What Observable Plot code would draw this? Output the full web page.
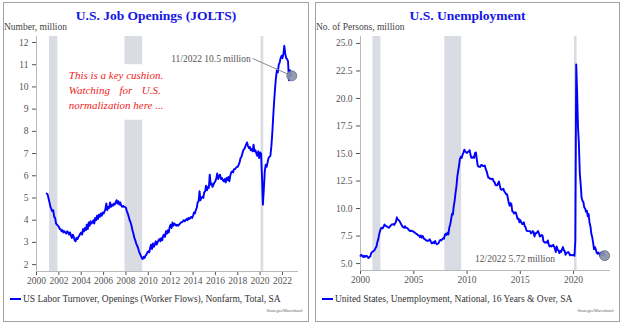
<!DOCTYPE html>
<html><head><meta charset="utf-8">
<script src="https://cdn.jsdelivr.net/npm/d3@7"></script>
<script src="https://cdn.jsdelivr.net/npm/@observablehq/plot@0.6"></script>
<style>
body{margin:0;background:#fff;width:624px;height:326px;overflow:hidden;font-family:"Liberation Serif","Times New Roman",serif;}
.panel{position:absolute;top:2px;height:320px;border:1px solid #a4a4a4;box-sizing:border-box;}
.title{position:absolute;left:0;right:0;top:6px;line-height:13.5px;text-align:center;font-weight:bold;font-size:13.5px;color:#1414e6;white-space:nowrap;}
.ylab{position:absolute;left:0;top:20px;font-size:9.5px;line-height:9.5px;color:#444;white-space:nowrap;}
.chart{position:absolute;left:0;top:21px;}
.legend{position:absolute;left:6px;top:290px;font-size:9.5px;line-height:12px;color:#333;display:flex;align-items:center;white-space:nowrap;}
.legend .sw{width:11px;height:2px;background:#0000ff;margin-right:2px;}
.src{position:absolute;right:6px;top:305px;font-size:6px;color:#666;transform:scale(0.7);transform-origin:right top;white-space:nowrap;}
</style>
</head><body>
<div class="panel" id="pL" style="left:3px;width:306px;">
  <div class="chart" id="cL"></div>
  <div class="title">U.S. Job Openings (JOLTS)</div>
  <div class="ylab">Number, million</div>
  <div class="legend"><div class="sw"></div><span>US Labor Turnover, Openings (Worker Flows), Nonfarm, Total, SA</span></div>
  <div class="src">Strategas/Macrobond</div>
</div>
<div class="panel" id="pR" style="left:315px;width:305px;">
  <div class="chart" id="cR"></div>
  <div class="title">U.S. Unemployment</div>
  <div class="ylab">No. of Persons, million</div>
  <div class="legend" style="left:6px;"><div class="sw"></div><span>United States, Unemployment, National, 16 Years &amp; Over, SA</span></div>
  <div class="src">Strategas/Macrobond</div>
</div>
<script>
// ---------- DATA ----------
// JOLTS job openings, millions, monthly from Dec 2000
const joltsStart = [2000, 11];
const jolts = [
  5.2,
  5.15,4.95,4.8,4.6,4.5,4.4,4.45,4.15,4.1,3.85,3.8,3.75,
  3.7,3.6,3.6,3.5,3.55,3.45,3.5,3.45,3.4,3.5,3.45,3.35,
  3.45,3.3,3.2,3.35,3.25,3.1,3.05,3.2,3.15,3.25,3.3,3.4,
  3.45,3.35,3.6,3.5,3.65,3.55,3.8,3.6,3.9,3.75,3.95,3.85,
  3.9,4.0,3.85,4.1,4.0,4.2,4.05,4.25,4.15,4.3,4.2,4.35,
  4.3,4.4,4.5,4.75,4.45,4.6,4.55,4.8,4.6,4.7,4.65,4.75,
  4.7,4.8,4.9,4.75,4.85,4.7,4.8,4.65,4.6,4.65,4.6,4.6,
  4.55,4.4,4.3,4.15,4.0,3.9,3.75,3.55,3.4,3.2,3.1,2.95,
  2.85,2.75,2.6,2.5,2.4,2.3,2.25,2.35,2.3,2.4,2.45,2.55,
  2.6,2.55,2.75,2.9,2.7,2.95,2.8,2.9,3.05,2.9,3.0,3.1,
  3.15,3.05,3.2,3.1,3.3,3.35,3.25,3.5,3.4,3.55,3.45,3.7,
  3.8,3.65,3.9,3.75,3.85,3.8,3.75,3.8,3.75,3.8,3.85,3.9,
  3.9,3.95,4.0,3.95,4.0,4.05,4.0,4.1,4.05,4.1,4.15,4.1,
  4.2,4.35,4.3,4.45,4.55,4.8,4.85,5.3,4.9,5.0,5.05,5.0,
  5.25,5.3,5.55,5.35,5.5,5.45,6.05,5.6,5.65,5.5,5.6,5.7,
  5.75,5.9,6.1,5.85,6.0,6.05,5.85,5.9,5.8,5.75,5.85,5.7,
  5.9,5.8,5.95,5.75,6.0,6.15,6.2,6.15,6.3,6.3,6.35,6.4,
  6.4,6.5,6.6,6.8,6.85,7.0,7.15,7.2,7.3,7.4,7.5,7.35,
  7.25,7.3,7.15,7.2,7.1,7.4,7.1,7.15,7.0,6.9,7.1,6.8,
  7.05,7.0,6.0,4.7,5.4,6.2,6.5,6.4,6.6,6.8,6.85,6.9,
  7.3,7.9,8.6,9.3,9.9,10.4,10.75,10.65,11.0,11.1,11.3,11.4,
  11.3,11.5,11.85,11.5,11.3,11.25,11.15,10.3,10.75,10.6,10.5
];
// US unemployment, 16+, millions, monthly from Jan 2000
const unempStart = [2000, 0];
const unemp = [
  5.7,5.8,5.7,5.6,5.7,5.6,5.7,5.7,5.6,5.5,5.6,5.65,
  5.95,6.05,6.1,6.15,6.25,6.4,6.55,6.95,7.2,7.65,7.95,8.2,
  8.25,8.2,8.35,8.55,8.45,8.4,8.35,8.3,8.25,8.35,8.45,8.55,
  8.55,8.6,8.5,8.65,8.8,9.2,9.0,8.95,8.85,8.7,8.55,8.4,
  8.3,8.25,8.4,8.25,8.25,8.2,8.1,8.0,7.95,8.0,7.95,7.95,
  7.85,7.85,7.75,7.7,7.65,7.55,7.55,7.4,7.55,7.35,7.5,7.35,
  7.2,7.2,7.1,7.1,7.05,7.1,7.2,7.05,6.85,6.85,6.95,6.85,
  7.05,6.85,6.75,6.8,6.85,7.05,7.15,7.1,7.2,7.3,7.25,7.6,
  7.7,7.6,7.8,7.65,8.25,8.55,8.95,9.5,9.45,10.2,10.7,11.4,
  12.0,12.9,13.4,13.9,14.5,14.7,14.6,14.9,15.1,15.35,15.2,15.1,
  15.05,15.15,15.2,15.3,14.85,14.6,14.6,14.7,14.6,15.05,15.1,14.5,
  13.9,13.8,13.8,13.8,13.95,13.95,13.85,13.85,13.9,13.6,13.4,13.1,
  12.8,12.8,12.7,12.7,12.65,12.7,12.45,12.4,12.15,12.1,12.1,12.3,
  12.45,12.05,11.75,11.7,11.75,11.8,11.55,11.45,11.3,11.3,10.95,10.5,
  10.25,10.5,10.4,9.75,9.7,9.55,9.65,9.65,9.35,9.05,9.1,8.75,
  8.95,8.75,8.6,8.6,8.75,8.4,8.3,8.0,7.95,7.95,7.95,7.95,
  7.75,7.8,7.95,7.85,7.45,7.75,7.75,7.85,7.95,7.75,7.45,7.5,
  7.6,7.55,7.05,6.95,6.9,6.95,6.9,7.1,6.75,6.55,6.65,6.55,
  6.6,6.7,6.55,6.35,6.05,6.55,6.25,6.2,5.95,6.15,6.05,6.3,
  6.5,6.2,6.15,5.8,5.95,6.0,6.05,5.95,5.75,5.8,5.75,5.75,
  5.8,5.7,7.1,23.1,20.6,17.4,15.9,13.2,12.2,11.0,10.7,10.6,
  10.1,10.0,9.7,9.8,9.3,9.5,8.7,8.4,7.7,7.4,6.9,6.3,
  6.5,6.3,6.0,5.9,6.0,5.9,5.7,6.0,5.75,6.05,6.0,5.72
];
// NBER recessions
const recStart = ["2001-03-01", "2007-12-01", "2020-02-01"];
const recEnd   = ["2001-11-30", "2009-06-30", "2020-04-30"];
// tick labels
const xTicksL = [2000,2002,2004,2006,2008,2010,2012,2014,2016,2018,2020,2022];
const yTicksL = [2,3,4,5,6,7,8,9,10,11,12];
const xTicksR = [2000,2005,2010,2015,2020];
const yTicksR = [5,7.5,10,12.5,15,17.5,20,22.5,25];
// annotations
const noteLText = "11/2022 10.5 million";
const noteRText = "12/2022 5.72 million";
const redNote = "This is a key cushion.\nWatching for U.S.\nnormalization here ...";

// ---------- BUILD ----------
const D = (y, m, d=1) => new Date(Date.UTC(y, m, d));
const toSeries = (start, vals) => vals.map((v, i) => ({date: D(start[0], start[1] + i), value: v}));
const joltsData = toSeries(joltsStart, jolts);
const unempData = toSeries(unempStart, unemp);
const yearDates = ys => ys.map(y => D(y, 0));

const blue = "#0000ff", recFill = "#d9dce2", axisCol = "#b8b8b8";
const baseStyle = {fontFamily: "'Liberation Serif', serif", fontSize: "9.5px", color: "#555", background: "transparent", overflow: "visible"};

// Left chart
const xDomL = [D(2000,0), D(2023,5,8)];
const yDomL = [1.69, 12.27];
const recL = [];
recStart.forEach((s, i) => {
  const r = {start: new Date(s), end: new Date(recEnd[i])};
  if (i === 1) { // split to leave room for the note
    recL.push({...r, y1: yDomL[0], y2: 8.5});
    recL.push({...r, y1: 11.0, y2: yDomL[1]});
  } else recL.push({...r, y1: yDomL[0], y2: yDomL[1]});
});
const lastL = joltsData[joltsData.length - 1];
const noteLPos = {date: D(2019,2), value: 11.28};
const chartL = Plot.plot({
  width: 303, height: 262, marginTop: 12, marginBottom: 15, marginLeft: 32, marginRight: 9,
  style: baseStyle,
  x: {type: "utc", domain: xDomL, ticks: yearDates(xTicksL), tickFormat: d3.utcFormat("%Y"), tickSize: 4, tickPadding: 2, label: null},
  y: {domain: yDomL, ticks: yTicksL, tickSize: 4, tickPadding: 4, label: null},
  marks: [
    Plot.rect(recL, {x1: "start", x2: "end", y1: "y1", y2: "y2", fill: recFill}),
    Plot.ruleX([xDomL[0]], {stroke: axisCol}),
    Plot.ruleY([yDomL[0]], {stroke: axisCol}),
    Plot.line(joltsData, {x: "date", y: "value", stroke: blue, strokeWidth: 1.9}),
    Plot.link([{x1: D(2019,4), y1: noteLPos.value, x2: lastL.date, y2: lastL.value}], {x1: "x1", y1: "y1", x2: "x2", y2: "y2", stroke: "#888", strokeWidth: 1}),
    Plot.dot([lastL], {x: "date", y: "value", r: 5, fill: "#8a94a8", fillOpacity: 0.9, stroke: "#5f6a80", strokeWidth: 0.8}),
    Plot.text([noteLPos], {x: "date", y: "value", text: () => noteLText, textAnchor: "end", fill: "#555", fontSize: 9.5}),
    Plot.text([{date: D(2007,0), value: 9.9}], {x: "date", y: "value", text: () => redNote, fill: "#ee1c1c", fontStyle: "italic", fontSize: 11, lineHeight: 1.36, textAnchor: "start", dx: -46})
  ]
});
document.getElementById("cL").append(chartL);
// justify red note by word spacing
chartL.querySelectorAll("text").forEach(t => {
  if (t.textContent.includes("cushion")) {
    const sp = t.querySelectorAll("tspan");
    (sp.length ? Array.from(sp) : [t]).forEach(s => {
      const len = s.getComputedTextLength();
      const n = (s.textContent.match(/ /g) || []).length;
      if (n > 0 && len < 92) s.style.wordSpacing = ((92 - len) / n) + "px";
    });
  }
});

// Right chart
const xDomR = [D(2000,0), D(2023,5,20)];
const yDomR = [4.37, 25.63];
const recR = recStart.map((s, i) => ({start: new Date(s), end: new Date(recEnd[i]), y1: yDomR[0], y2: yDomR[1]}));
const lastR = unempData[unempData.length - 1];
const noteRPos = {date: D(2010,9), value: 5.45};
const chartR = Plot.plot({
  width: 302, height: 262, marginTop: 12, marginBottom: 16, marginLeft: 44, marginRight: 8,
  style: baseStyle,
  x: {type: "utc", domain: xDomR, ticks: yearDates(xTicksR), tickFormat: d3.utcFormat("%Y"), tickSize: 4, tickPadding: 2, label: null},
  y: {domain: yDomR, ticks: yTicksR, tickFormat: d3.format(".1f"), tickSize: 4, tickPadding: 4, label: null},
  marks: [
    Plot.rect(recR, {x1: "start", x2: "end", y1: "y1", y2: "y2", fill: recFill}),
    Plot.ruleX([xDomR[0]], {stroke: axisCol}),
    Plot.ruleY([yDomR[0]], {stroke: axisCol}),
    Plot.line(unempData, {x: "date", y: "value", stroke: blue, strokeWidth: 1.9}),
    Plot.dot([lastR], {x: "date", y: "value", r: 5, fill: "#8a94a8", fillOpacity: 0.9, stroke: "#5f6a80", strokeWidth: 0.8}),
    Plot.text([noteRPos], {x: "date", y: "value", text: () => noteRText, textAnchor: "start", fill: "#555", fontSize: 9.5})
  ]
});
document.getElementById("cR").append(chartR);
</script>
</body></html>
